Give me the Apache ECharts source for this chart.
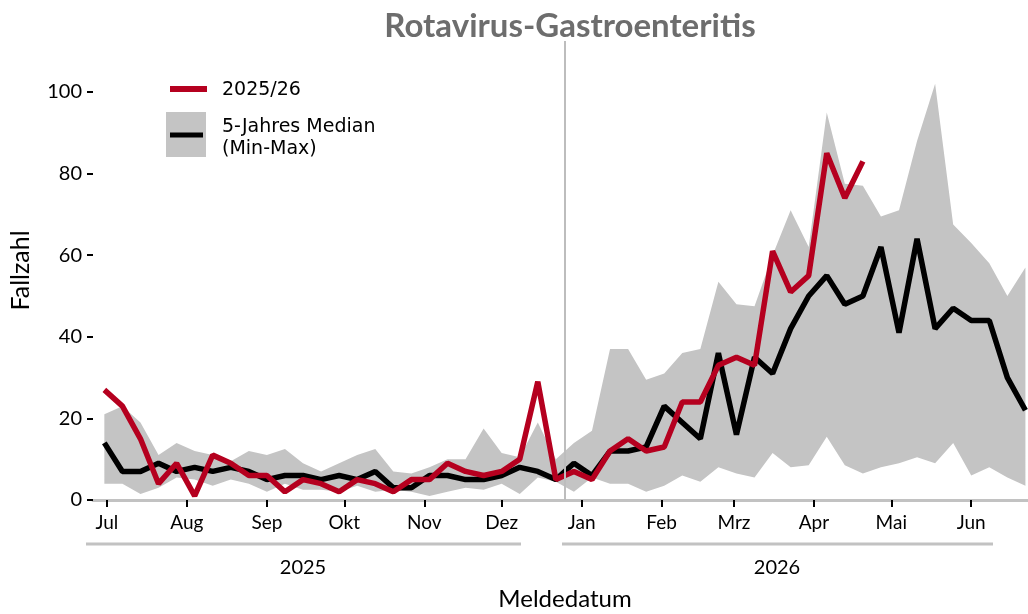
<!DOCTYPE html>
<html>
<head>
<meta charset="utf-8">
<script src="https://cdn.jsdelivr.net/npm/echarts@6/dist/echarts.min.js"></script>
<style>
html, body { margin: 0; padding: 0; background: #fff; }
#chart { width: 1028px; height: 614px; }
</style>
</head>
<body>
<div id="chart"></div>
<script>
// x-Achse in Tagen ab 01.07.2025; erste Meldewoche beginnt am 30.06.2025
const DAY = 86400000
const seasonStart = Date.UTC(2025, 6, 1)
const firstWeek = Date.UTC(2025, 5, 30)

const monthNames = ["Jan", "Feb", "Mrz", "Apr", "Mai", "Jun", "Jul", "Aug", "Sep", "Okt", "Nov", "Dez"]
const monthTicks = [
  [2025, 6], [2025, 7], [2025, 8], [2025, 9], [2025, 10], [2025, 11],
  [2026, 0], [2026, 1], [2026, 2], [2026, 3], [2026, 4], [2026, 5]
]
const yTicks = [0, 20, 40, 60, 80, 100]

// 2025/26
const current = [27, 23, 15, 4, 9, 1, 11, 9, 6, 6, 2, 5, 4, 2, 5, 4, 2, 5, 5, 9, 7, 6, 7, 10, 29, 5,
  7, 5, 12, 15, 12, 13, 24, 24, 33, 35, 33, 61, 51, 55, 85, 74, 83]
// 5-Jahres Median
const median = [14, 7, 7, 9, 7, 8, 7, 8, 7, 5, 6, 6, 5, 6, 5, 7, 3, 3, 6, 6, 5, 5, 6, 8, 7, 5,
  9, 6, 12, 12, 13, 23, 19, 15, 36, 16, 35, 31, 42, 50, 55, 48, 50, 62, 41, 64, 42, 47, 44, 44, 30, 22]
const minVals = [4, 4, 1.5, 3, 5.5, 5, 3.5, 5, 4, 2, 4, 2.5, 2.5, 2, 3.5, 2, 2.5, 2, 1, 2, 3, 2.5, 4, 1.5, 5.5, 4.5,
  2, 5.5, 4, 4, 2, 3.5, 6, 4.5, 8, 6.5, 5.5, 11.5, 8, 8.5, 15.5, 8.5, 6.5, 8, 9, 10.5, 9, 14, 6, 8, 5.5, 3.5]
const maxVals = [21, 23, 19, 11, 14, 12, 11, 9.5, 12, 11, 12.5, 9, 7, 9, 11, 12.5, 7, 6.5, 8, 10, 10, 17.5, 11.5, 10.5, 19, 10,
  14, 17, 37, 37, 29.5, 31, 36, 37, 53.5, 48, 47.5, 60, 71, 62, 95, 77.5, 77, 69.5, 71, 88, 102, 67.5, 63, 58, 50, 57]

const dayOf = t => (t - seasonStart) / DAY
const weekX = i => dayOf(firstWeek) + i * 7
const pairs = arr => arr.map((v, i) => [weekX(i), v])
const monthDays = monthTicks.map(m => dayOf(Date.UTC(m[0], m[1], 1)))
const monthLabel = v => {
  const k = monthDays.indexOf(v)
  return k < 0 ? "" : monthNames[monthTicks[k][1]]
}

// Min-Max-Band als ein Polygon
function renderBand(params, api) {
  if (params.dataIndex !== 0) return
  const upper = maxVals.map((v, i) => api.coord([weekX(i), v]))
  const lower = minVals.map((v, i) => api.coord([weekX(i), v])).reverse()
  return {
    type: "polygon",
    shape: { points: upper.concat(lower) },
    style: { fill: "#c4c4c4" },
    silent: true
  }
}

const chart = echarts.init(document.getElementById("chart"))
const labelFont = "Lato, 'Noto Sans', sans-serif"
const legendFont = "'DejaVu Sans', sans-serif"

const option = {
  animation: false,
  title: {
    text: "Rotavirus-Gastroenteritis",
    left: 565,
    top: 5,
    textAlign: "center",
    textStyle: { fontFamily: labelFont, fontWeight: "bold", fontSize: 33, color: "#6d6d6d" }
  },
  grid: { left: 91, right: 0, top: 41, bottom: 114, containLabel: false },
  xAxis: {
    type: "value",
    min: -5.4,
    max: 357,
    axisLine: { lineStyle: { color: "#c2c2c2", width: 3 } },
    axisTick: {
      customValues: monthDays,
      length: 7,
      lineStyle: { color: "#000", width: 2 }
    },
    axisLabel: {
      customValues: monthDays,
      formatter: monthLabel,
      fontFamily: labelFont,
      fontSize: 19,
      color: "#000",
      margin: 13
    },
    splitLine: { show: false }
  },
  yAxis: {
    type: "value",
    min: 0,
    max: 112.5,
    name: "Fallzahl",
    nameLocation: "middle",
    nameGap: 60,
    nameTextStyle: { fontFamily: labelFont, fontSize: 25, color: "#000" },
    axisLine: { show: false, onZero: false },
    axisTick: { show: true, customValues: yTicks, length: 6, lineStyle: { color: "#000", width: 2 } },
    axisLabel: { customValues: yTicks, fontFamily: labelFont, fontSize: 20, color: "#000", margin: 11 },
    splitLine: { show: false }
  },
  series: [
    {
      name: "Min-Max",
      type: "custom",
      data: minVals.map((v, i) => [weekX(i), v, maxVals[i]]),
      encode: { x: 0, y: [1, 2] },
      renderItem: renderBand,
      silent: true,
      z: 1
    },
    {
      name: "5-Jahres Median",
      type: "line",
      data: pairs(median),
      symbol: "none",
      lineStyle: { color: "#000", width: 5.5 },
      z: 3,
      markLine: {
        silent: true,
        symbol: "none",
        label: { show: false },
        lineStyle: { color: "#bdbdbd", width: 2, type: "solid" },
        data: [{ xAxis: 177.5 }]
      }
    },
    {
      name: "2025/26",
      type: "line",
      data: pairs(current),
      symbol: "none",
      lineStyle: { color: "#b5001f", width: 5.5 },
      z: 4
    }
  ],
  graphic: [
    // Legende
    { type: "line", shape: { x1: 170, y1: 89, x2: 207, y2: 89 }, style: { stroke: "#b5001f", lineWidth: 6 } },
    { type: "text", x: 222, y: 90, style: { text: "2025/26", font: "19px " + legendFont, fill: "#000", verticalAlign: "middle" } },
    { type: "rect", shape: { x: 166, y: 112, width: 40, height: 45 }, style: { fill: "#c4c4c4" } },
    { type: "line", shape: { x1: 170, y1: 135, x2: 203, y2: 135 }, style: { stroke: "#000", lineWidth: 5 } },
    { type: "text", x: 222, y: 127, style: { text: "5-Jahres Median", font: "19px " + legendFont, fill: "#000", verticalAlign: "middle" } },
    { type: "text", x: 222, y: 149, style: { text: "(Min-Max)", font: "19px " + legendFont, fill: "#000", verticalAlign: "middle" } },
    // Jahresklammern
    { type: "line", shape: { x1: 86, y1: 544, x2: 521, y2: 544 }, style: { stroke: "#c2c2c2", lineWidth: 3 } },
    { type: "line", shape: { x1: 562, y1: 544, x2: 993, y2: 544 }, style: { stroke: "#c2c2c2", lineWidth: 3 } },
    { type: "text", x: 303, y: 568, style: { text: "2025", font: "20px " + labelFont, fill: "#000", align: "center", verticalAlign: "middle" } },
    { type: "text", x: 777, y: 568, style: { text: "2026", font: "20px " + labelFont, fill: "#000", align: "center", verticalAlign: "middle" } },
    { type: "text", x: 565, y: 599, style: { text: "Meldedatum", font: "24px " + labelFont, fill: "#000", align: "center", verticalAlign: "middle" } }
  ]
}

chart.setOption(option)
</script>
</body>
</html>
